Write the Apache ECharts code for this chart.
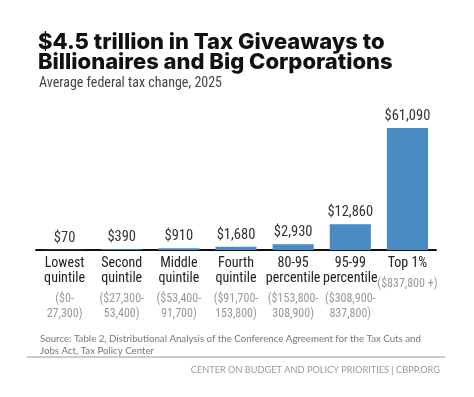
<!DOCTYPE html>
<html>
<head>
<meta charset="utf-8">
<script src="https://cdn.jsdelivr.net/npm/echarts@6/dist/echarts.min.js"></script>
<style>
  html, body { margin: 0; padding: 0; background: #fff; }
  #chart { width: 474px; height: 397px; }
</style>
</head>
<body>
<div id="chart"></div>
<script>
// groups along the bottom
var groups = ['Lowest\nquintile', 'Second\nquintile', 'Middle\nquintile', 'Fourth\nquintile',
              '80-95\npercentile', '95-99\npercentile', 'Top 1%'];
// income ranges under each group
var ranges = ['($0-\n27,300)', '($27,300-\n53,400)', '($53,400-\n91,700)', '($91,700-\n153,800)',
              '($153,800-\n308,900)', '($308,900-\n837,800)', '($837,800 +)'];
// average federal tax change, 2025 (dollars)
var taxChange = [70, 390, 910, 1680, 2930, 12860, 61090];

var narrow = '"Liberation Sans Narrow", "Roboto Condensed", "DejaVu Sans Condensed", sans-serif';

var myChart = echarts.init(document.getElementById('chart'));

function money(v) {
    return '$' + v.toLocaleString('en-US');
}

myChart.setOption({
    animation: false,
    title: [
        {
            text: '$4.5 trillion in Tax Giveaways to\nBillionaires and Big Corporations',
            left: 33,
            top: 27,
            textStyle: {
                fontFamily: 'Inter',
                fontWeight: 800,
                fontSize: 22,
                lineHeight: 20,
                color: '#111'
            }
        },
        {
            text: 'Average federal tax change, 2025',
            left: 34,
            top: 71,
            textStyle: {
                fontFamily: narrow,
                fontWeight: 'normal',
                fontSize: 14,
                color: '#444'
            }
        },
        {
            text: 'Source: Table 2, Distributional Analysis of the Conference Agreement for the Tax Cuts and\nJobs Act, Tax Policy Center',
            left: 35,
            top: 328,
            textStyle: {
                fontFamily: 'Lato',
                fontWeight: 'normal',
                fontSize: 9.7,
                lineHeight: 12,
                color: '#777'
            }
        },
        {
            text: 'CENTER ON BUDGET AND POLICY PRIORITIES | CBPP.ORG',
            right: 29,
            top: 361,
            textStyle: {
                fontFamily: 'Lato',
                fontWeight: 'normal',
                fontSize: 9.2,
                color: '#999'
            }
        }
    ],
    graphic: [
        {
            type: 'line',
            shape: { x1: 27, y1: 357, x2: 445, y2: 357 },
            style: { stroke: '#999', lineWidth: 1 }
        }
    ],
    grid: {
        left: 36,
        right: 38,
        top: 128,
        bottom: 147
    },
    xAxis: {
        type: 'category',
        data: groups,
        axisLine: { lineStyle: { color: '#111', width: 2 } },
        axisTick: { show: false },
        axisLabel: {
            interval: 0,
            margin: 6,
            formatter: function (value, idx) {
                var out = value.split('\n').map(function (s) { return '{n|' + s + '}'; });
                out.push('{s| }');
                ranges[idx].split('\n').forEach(function (s) { out.push('{r|' + s + '}'); });
                return out.join('\n');
            },
            rich: {
                n: { fontFamily: narrow, fontSize: 14, lineHeight: 15, color: '#222' },
                s: { fontSize: 1, lineHeight: 5 },
                r: { fontFamily: narrow, fontSize: 12, lineHeight: 15, color: '#999' }
            }
        }
    },
    yAxis: {
        type: 'value',
        min: 0,
        max: 61090,
        show: false
    },
    series: [
        {
            type: 'bar',
            data: taxChange,
            barCategoryGap: '28%',
            itemStyle: { color: '#4b8bc3' },
            label: {
                show: true,
                position: 'top',
                distance: 4,
                fontFamily: narrow,
                fontSize: 14.5,
                color: '#333',
                formatter: function (p) { return money(p.value); }
            }
        }
    ]
});
</script>
</body>
</html>
